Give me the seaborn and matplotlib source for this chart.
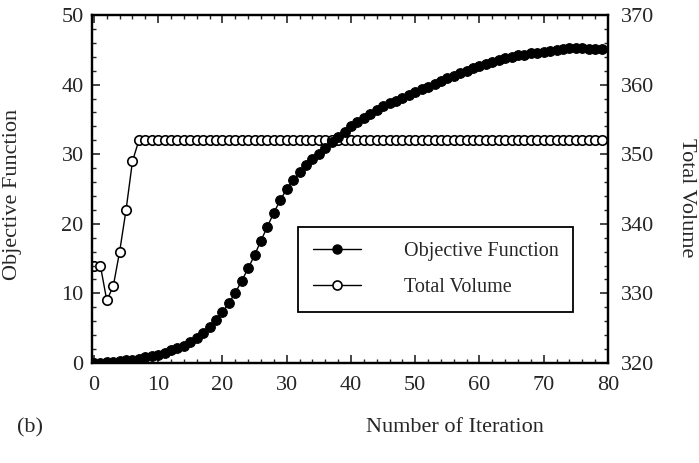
import numpy as np
import pandas as pd
import seaborn as sns
import matplotlib
matplotlib.use("Agg")
import matplotlib.pyplot as plt
from matplotlib.ticker import MultipleLocator
from matplotlib.lines import Line2D

iterations = list(range(80))
objective = [0.0, 0.0, 0.1, 0.2, 0.3, 0.4, 0.5, 0.6, 0.8, 1.0,
             1.2, 1.5, 1.8, 2.1, 2.5, 3.0, 3.6, 4.3, 5.2, 6.2,
             7.3, 8.6, 10.1, 11.8, 13.6, 15.5, 17.6, 19.6, 21.6, 23.4,
             25.0, 26.3, 27.4, 28.4, 29.3, 30.1, 30.9, 31.7, 32.5, 33.2,
             34.0, 34.6, 35.2, 35.8, 36.4, 36.9, 37.3, 37.7, 38.1, 38.5,
             38.9, 39.3, 39.7, 40.1, 40.5, 40.9, 41.3, 41.7, 42.0, 42.4,
             42.7, 43.0, 43.3, 43.6, 43.8, 44.0, 44.2, 44.3, 44.5, 44.6,
             44.7, 44.8, 45.0, 45.1, 45.2, 45.2, 45.2, 45.1, 45.1, 45.1]
volume = [334, 334, 329, 331, 336, 342, 349] + [352] * 73

sns.set_style("ticks")
plt.rcParams['font.family'] = ['Liberation Serif', 'DejaVu Serif']

df = pd.DataFrame({"iter": iterations, "obj": objective, "vol": volume})

fig = plt.figure(figsize=(6.99, 4.63), dpi=100)
ax = fig.add_axes([92/699, 1-363/463, (608-92)/699, (363-15)/463])
ax2 = ax.twinx()

sns.lineplot(data=df, x="iter", y="obj", ax=ax, color="black", marker="o",
             markersize=7, markerfacecolor="black", markeredgecolor="black",
             linewidth=1.0, legend=False)
sns.lineplot(data=df, x="iter", y="vol", ax=ax2, color="black", marker="o",
             markersize=6.8, markerfacecolor="white", markeredgecolor="black",
             markeredgewidth=1.2, linewidth=1.0, legend=False)

ax.set_zorder(ax2.get_zorder() + 1)
ax.patch.set_visible(False)

ax.set_xlim(-0.3, 80)
ax.set_ylim(0, 50)
ax2.set_ylim(320, 370)
ax.xaxis.set_major_locator(MultipleLocator(10))
ax.xaxis.set_minor_locator(MultipleLocator(2))
ax.yaxis.set_major_locator(MultipleLocator(10))
ax.yaxis.set_minor_locator(MultipleLocator(2))
ax2.yaxis.set_major_locator(MultipleLocator(10))
ax2.yaxis.set_minor_locator(MultipleLocator(2))

for a in (ax, ax2):
    for s in a.spines.values():
        s.set_linewidth(1.6)
        s.set_color("black")
ax.tick_params(axis="both", which="major", direction="in", length=6, width=1.2,
               labelsize=16, top=True, right=False, pad=6)
ax.tick_params(axis="x", which="major", pad=9)
ax.tick_params(axis="both", which="minor", direction="in", length=3, width=1.0,
               top=True, right=False)
ax2.tick_params(axis="y", which="major", direction="in", length=6, width=1.2,
                labelsize=16, pad=9)
ax2.tick_params(axis="y", which="minor", direction="in", length=3, width=1.0)

ax.set_xlabel("")
ax.set_ylabel("")
ax2.set_ylabel("")
fig.text(13/699, 1-194/463, "Objective Function", rotation=90, fontsize=16,
         ha="center", va="center")
fig.text(687/699, 1-198/463, "Total Volume", rotation=-90, fontsize=16,
         ha="center", va="center")
fig.text(455/699, 1-428/463, "Number of Iteration", fontsize=16,
         ha="center", va="center")
fig.text(30/699, 1-428/463, "(b)", fontsize=16, ha="center", va="center")

handles = [
    Line2D([], [], color="black", marker="o", markersize=6.5, markerfacecolor="black",
           markeredgecolor="black", linewidth=1.0),
    Line2D([], [], color="black", marker="o", markersize=6.5, markerfacecolor="white",
           markeredgecolor="black", markeredgewidth=1.2, linewidth=1.0),
]
leg = ax.legend(handles, ["Objective Function", "Total Volume"], loc="upper left",
                bbox_to_anchor=(0.399, 0.391), borderaxespad=0, fontsize=14.5,
                frameon=True, fancybox=False, edgecolor="black", framealpha=1,
                handlelength=2.4, handletextpad=2.1, labelspacing=0.85,
                borderpad=0.75)
leg.get_frame().set_linewidth(1.3)

fig.savefig("out.png", dpi=100)
